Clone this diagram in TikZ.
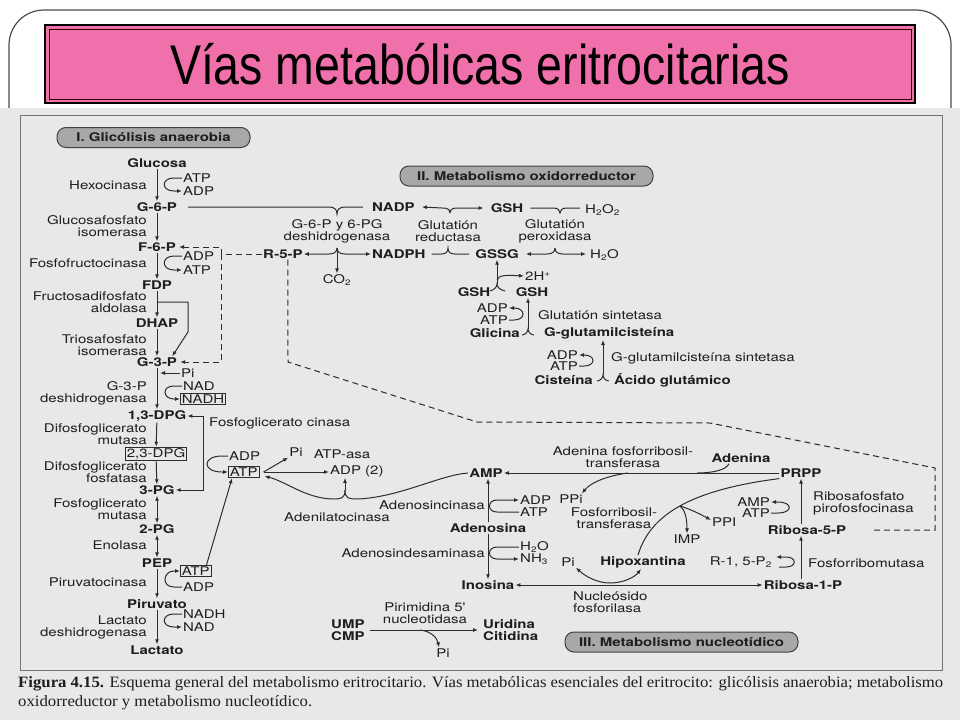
\documentclass[tikz,border=0pt]{standalone}
\usepackage{fontspec}
\usetikzlibrary{arrows.meta}
\newfontfamily\diag[FakeStretch=1.25]{TeX Gyre Heros}
\newfontfamily\titlefont[FakeStretch=0.83]{Liberation Sans}
\newfontfamily\capfont[FakeStretch=1.06]{Liberation Serif}
\definecolor{titlepink}{RGB}{240,112,172}
\definecolor{scan}{RGB}{232,232,230}
\definecolor{txt}{RGB}{30,30,30}
\definecolor{ln}{RGB}{45,45,45}
\definecolor{pillgray}{RGB}{168,168,168}
\tikzset{
 lbl/.style={font=\diag\fontsize{12}{12}\selectfont, text=txt, inner sep=1pt},
 met/.style={lbl, font=\diag\bfseries\fontsize{12}{12}\selectfont},
 enz/.style={lbl, align=right, anchor=east},
 boxed/.style={draw=ln, line width=0.8pt, inner sep=1.5pt},
 con/.style={draw=ln, line width=1pt},
 arr/.style={con, -{Latex[length=5pt,width=4pt]}},
 barr/.style={con, {Latex[length=5pt,width=4pt]}-{Latex[length=5pt,width=4pt]}},
 dsh/.style={dash pattern=on 6pt off 4pt},
 pill/.style={draw=black!75, fill=pillgray, line width=1pt, rounded corners=9pt, minimum height=20pt, inner sep=2pt, font=\diag\bfseries\fontsize{12}{12}\selectfont, text=txt},
}
\begin{document}
\begin{tikzpicture}[x=1pt,y=-1pt]
\useasboundingbox (0,0) rectangle (960,720);
\fill[white] (0,0) rectangle (960,720);
% slide frame
\draw[line width=1.2pt, black!70] (9,108) -- (9,45) arc[start angle=180, end angle=270, radius=35] -- (916,10) arc[start angle=270, end angle=360, radius=35] -- (951,108);
% title
\fill[titlepink] (45,25) rectangle (915,103);
\draw[line width=1.6pt, black] (45,25) rectangle (915,103);
\draw[line width=0.9pt, black!80!red] (49,29) rectangle (911,99);
\node[font=\titlefont\fontsize{56}{60}\selectfont, text=black] (title) at (480,64) {Vías metabólicas eritrocitarias};
% scan area
\fill[scan] (0,108) rectangle (960,720);
\draw[line width=1pt, black!55] (20,115) rectangle (942,670);

% ---------- I. Glycolysis ----------
\node[pill, minimum width=193pt] (p1) at (153.5,137.5) {I. Glicólisis anaerobia};
\node[met] (glc) at (157,163) {Glucosa};
\node[met] (g6p) at (157,207) {G-6-P};
\node[met] (f6p) at (157,247) {F-6-P};
\node[met] (fdp) at (157,285) {FDP};
\node[met] (dhap) at (157,323) {DHAP};
\node[met] (g3p) at (157,362) {G-3-P};
\node[met] (dpg13) at (157,416) {1,3-DPG};
\node[lbl,boxed] (dpg23) at (156,454) {2,3-DPG};
\node[met] (pg3) at (157,490) {3-PG};
\node[met] (pg2) at (157,529) {2-PG};
\node[met] (pep) at (157,563) {PEP};
\node[met] (pyr) at (157,604) {Piruvato};
\node[met] (lac) at (157,650) {Lactato};

\draw[arr] (glc) -- (g6p);
\draw[arr] (g6p) -- (f6p);
\draw[arr] (f6p) -- (fdp);
\draw[arr] (fdp) -- (dhap);
\draw[arr] (dhap) -- (g3p);
\draw[arr] (g3p) -- (dpg13);
\draw[arr] (dpg13) -- (dpg23);
\draw[arr] (dpg23) -- (pg3);
\draw[barr] (pg3) -- (pg2);
\draw[barr] (pg2) -- (pep);
\draw[arr] (pep) -- (pyr);
\draw[arr] (pyr) -- (lac);

\node[enz] at (148,185) {Hexocinasa};
\node[enz] at (148,226) {Glucosafosfato\\isomerasa};
\node[enz] at (148,263) {Fosfofructocinasa};
\node[enz] at (148,302) {Fructosadifosfato\\aldolasa};
\node[enz] at (148,345) {Triosafosfato\\isomerasa};
\node[enz] at (148,393) {G-3-P\\deshidrogenasa};
\node[enz] at (148,434) {Difosfoglicerato\\mutasa};
\node[enz] at (148,472) {Difosfoglicerato\\fosfatasa};
\node[enz] at (148,509) {Fosfoglicerato\\mutasa};
\node[enz] at (148,545) {Enolasa};
\node[enz] at (148,582) {Piruvatocinasa};
\node[enz] at (148,627) {Lactato\\deshidrogenasa};

% hexokinase
\node[lbl,anchor=west] (atp1) at (182,178) {ATP};
\node[lbl,anchor=west] (adp1) at (182,191) {ADP};
\draw[arr] (atp1.west) -- ++(-8,0) .. controls +(-13,0) and +(-13,0) .. ([xshift=-8pt]adp1.west) -- (adp1.west);
% PFK
\node[lbl,anchor=west] (adp2) at (182,256) {ADP};
\node[lbl,anchor=west] (atp2) at (182,270) {ATP};
\draw[arr] (adp2.west) -- ++(-8,0) .. controls +(-13,0) and +(-13,0) .. ([xshift=-8pt]atp2.west) -- (atp2.west);
% aldolase bracket
\coordinate (ald1) at (157,302);
\draw[arr] (ald1) -- (188,302) -- (188,332) -- ([xshift=-6pt]g3p.north east);
% G3PDH
\node[lbl,anchor=west] (pi1) at (180,373) {Pi};
\coordinate (pi1t) at (160,373);
\draw[arr] (pi1.west) -- (pi1t);
\node[lbl,anchor=west] (nad1) at (182,386) {NAD};
\node[lbl,boxed,anchor=west] (nadh1) at (180,399) {NADH};
\draw[arr] (nad1.west) -- ++(-8,0) .. controls +(-13,0) and +(-11,0) .. ([xshift=-6pt]nadh1.west) -- (nadh1.west);
% phosphoglycerate kinase
\coordinate (k1) at (203,416);
\coordinate (k2) at (203,490);
\draw[barr] (dpg13.east) -- (k1) -- (k2) -- (pg3.east);
\node[lbl,anchor=west] (pgk) at (208,423) {Fosfoglicerato cinasa};
\node[lbl,anchor=west] (adp3) at (228,456) {ADP};
\node[lbl,boxed,anchor=west] (atpB) at (228,472) {ATP};
\draw[arr] (adp3.west) -- ++(-6,0) .. controls +(-20,0) and +(-20,0) .. ([xshift=-6pt]atpB.west) -- (atpB.west);
% ATPase
\node[lbl] (pi2) at (296,452) {Pi};
\node[lbl] (atpasa) at (342,454) {ATP-asa};
\node[lbl,anchor=west] (adp2x) at (329,471) {ADP (2)};
\draw[arr] ([xshift=4pt]atpB.east) -- (pi2.south west);
\draw[arr] ([xshift=4pt]atpB.east) -- (atpB.east -| adp2x.west);
% pyruvate kinase
\node[lbl,boxed,anchor=west] (atpP) at (180,571) {ATP};
\node[lbl,anchor=west] (adpP) at (182,587) {ADP};
\draw[arr] (adpP.west) -- ++(-8,0) .. controls +(-13,0) and +(-11,0) .. ([xshift=-6pt]atpP.west) -- (atpP.west);
\draw[arr] ([xshift=-5pt]atpP.north east) -- ([xshift=4pt]atpB.south west);
% LDH
\node[lbl,anchor=west] (nadh2) at (182,614) {NADH};
\node[lbl,anchor=west] (nad2) at (182,627) {NAD};
\draw[arr] (nadh2.west) -- ++(-8,0) .. controls +(-13,0) and +(-13,0) .. ([xshift=-8pt]nad2.west) -- (nad2.west);

% ---------- II. Oxidoreductive ----------
\node[pill, minimum width=253pt] (p2) at (526.5,176) {II. Metabolismo oxidorreductor};
\node[met,anchor=west] (nadp) at (371,207) {NADP};
\node[met,anchor=west] (nadph) at (371,254) {NADPH};
\node[met,anchor=west] (r5p) at (262,254) {R-5-P};
\node[lbl] (co2) at (337,280) {CO\textsubscript{2}};
\node[lbl,align=center] (g6pdh) at (337,231) {G-6-P y 6-PG\\deshidrogenasa};
\coordinate (y1) at (337,214);
\draw[con] ([xshift=10pt]g6p.east) -- (329,207) .. controls (334,207) and (337,209) .. (y1) .. controls (337,209) and (340,207) .. (345,207) -- ([xshift=-8pt]nadp.west);
\coordinate (y2) at (337,248);
\draw[arr] (y2) .. controls (337,252) and (334,254) .. (329,254) -- (r5p.east);
\draw[arr] (y2) .. controls (337,252) and (340,254) .. (345,254) -- (nadph.west);
\draw[arr] (y2) -- (co2.north);

\node[met] (gsh1) at (507,208) {GSH};
\node[lbl,anchor=west] (h2o2) at (584,210) {H\textsubscript{2}O\textsubscript{2}};
\node[met] (gssg) at (497,254) {GSSG};
\node[lbl,anchor=west] (h2o) at (589,255) {H\textsubscript{2}O};
\node[lbl,align=center] (gr) at (448,231) {Glutatión\\reductasa};
\node[lbl,align=center] (gpx) at (555,231) {Glutatión\\peroxidasa};
\coordinate (y3) at (450,213);
\draw[arr] (y3) .. controls (450,209) and (447,208) .. (442,208) -- ([xshift=6pt]nadp.east);
\draw[arr] (y3) .. controls (450,209) and (453,208) .. (458,208) -- ([xshift=-6pt]gsh1.west);
\coordinate (y4) at (448,248);
\draw[con] ([xshift=5pt]nadph.east) -- (441,254) .. controls (446,254) and (448,252) .. (y4) .. controls (448,252) and (450,254) .. (455,254) -- ([xshift=-5pt]gssg.west);
\coordinate (y5) at (560,213);
\draw[con] ([xshift=6pt]gsh1.east) -- (553,208) .. controls (558,208) and (560,210) .. (y5) .. controls (560,210) and (562,208) .. (567,208) -- ([xshift=-4pt,yshift=2pt]h2o2.west);
\coordinate (y6) at (555,248);
\draw[arr] (y6) .. controls (555,252) and (552,254) .. (547,254) -- ([xshift=6pt]gssg.east);
\draw[arr] (y6) .. controls (555,252) and (558,254) .. (563,254) -- ([xshift=-3pt,yshift=1pt]h2o.west);

\node[met] (gsha) at (474,292) {GSH};
\node[met] (gshb) at (532,292) {GSH};
\coordinate (y7) at (497,284);
\coordinate (l7a) at (490,291);
\coordinate (l7b) at (505,291);
\draw[con] (l7a) .. controls (494,290) and (497,287) .. (y7) .. controls (497,287) and (500,290) .. (l7b);
\draw[arr] (y7) -- (y7 |- gssg.south);
\node[lbl,anchor=west] (h2p) at (524,276) {2H\textsuperscript{+}};
\coordinate (y7b) at (497,280);
\draw[arr] (y7b) .. controls (499,275) and (505,275) .. (h2p.west);

\node[lbl,anchor=east] (adpg) at (509,308) {ADP};
\node[lbl,anchor=east] (atpg) at (509,320) {ATP};
\draw[arr] (atpg.east) -- ++(5,0) .. controls +(12,0) and +(12,0) .. ([xshift=5pt]adpg.east) -- (adpg.east);
\node[lbl,anchor=west] (gs) at (537,315) {Glutatión sintetasa};
\node[met,anchor=east] (gly) at (521,333) {Glicina};
\node[met,anchor=west] (ggc) at (543,333) {G-glutamilcisteína};
\coordinate (y8) at (528,329);
\coordinate (l8a) at (522,335);
\coordinate (l8b) at (534,335);
\draw[con] (l8a) .. controls (525,335) and (528,332) .. (y8) .. controls (528,332) and (531,335) .. (l8b);
\draw[arr] (y8) -- (y8 |- gshb.south);

\node[lbl,anchor=east] (adpc) at (579,355) {ADP};
\node[lbl,anchor=east] (atpc) at (579,366) {ATP};
\draw[arr] (atpc.east) -- ++(5,0) .. controls +(12,0) and +(12,0) .. ([xshift=5pt]adpc.east) -- (adpc.east);
\node[lbl,anchor=west] (ggcs) at (610,358) {G-glutamilcisteína sintetasa};
\node[met,anchor=east] (cys) at (594,380) {Cisteína};
\node[met,anchor=west] (glu) at (613,380) {Ácido glutámico};
\coordinate (y9) at (603,375);
\coordinate (l9a) at (597,381);
\coordinate (l9b) at (609,381);
\draw[con] (l9a) .. controls (600,381) and (603,378) .. (y9) .. controls (603,378) and (606,381) .. (l9b);
\draw[arr] (y9) -- (y9 |- ggc.south);

% dashed connections from R-5-P
\coordinate (dv) at (221,254);
\draw[arr,dsh] (r5p.west) -- (dv) -- (221,247) -- ([xshift=2pt]f6p.east);
\draw[arr,dsh] (dv) -- (221,362) -- ([xshift=2pt]g3p.east);

% ---------- III. Nucleotide ----------
\node[met] (amp) at (486,473) {AMP};
\node[met] (prpp) at (801,473) {PRPP};
\node[met] (r5p2) at (807,530) {Ribosa-5-P};
\node[met] (r1p) at (803,585) {Ribosa-1-P};
\draw[con,dsh] ([xshift=5pt]r5p.south) -- (288,362) -- (477,422) -- (710,423) -- (935,468) -- (935,530) -- ([xshift=24pt]r5p2.east);

\draw[arr] (prpp.west) -- (amp.east);
\node[lbl,align=center] (aprt) at (623,457) {Adenina fosforribosil-\\transferasa};
\node[met] (ade) at (741,458) {Adenina};
\coordinate (ade1) at (697,473);
\draw[con] ([xshift=-12pt]ade.south) .. controls (726,470) and (713,473) .. (ade1);
\node[lbl] (ppi1) at (571,499) {PPi};
\coordinate (pp0) at (628,473);
\draw[arr] (pp0) .. controls (612,475) and (592,481) .. ([xshift=-2pt]ppi1.north east);
\node[lbl,align=center] (hgprt) at (614,518) {Fosforribosil-\\transferasa};

% adenylate kinase
\coordinate (jA) at (345,490);
\draw[arr] (jA) .. controls +(0,8) and +(10,0) .. (332,499) .. controls (305,498) and (285,481) .. ([xshift=5pt,yshift=2pt]atpB.south east);
\draw[con] (jA) .. controls +(0,8) and +(-10,0) .. (358,499) .. controls (400,497) and (440,475) .. (amp.west);
\draw[arr] (jA) -- (jA |- adp2x.south);
\node[lbl] (adk) at (337,517) {Adenilatocinasa};

% adenosine
\node[met] (ado) at (488,528) {Adenosina};
\draw[arr] (ado.north) -- (ado.north |- amp.south);
\node[lbl,anchor=west] (adp4) at (519,500) {ADP};
\node[lbl,anchor=west] (atp4) at (519,512) {ATP};
\draw[arr] (atp4.west) -- ++(-22,0) .. controls +(-10,0) and +(-10,0) .. ([xshift=-22pt]adp4.west) -- (adp4.west);
\node[enz] at (486,505) {Adenosincinasa};
\node[enz] at (486,553) {Adenosindesaminasa};
\node[lbl,anchor=west] (h2o3) at (519,547) {H\textsubscript{2}O};
\node[lbl,anchor=west] (nh3) at (519,559) {NH\textsubscript{3}};
\draw[arr] (h2o3.west) -- ++(-22,0) .. controls +(-10,0) and +(-10,0) .. ([xshift=-22pt]nh3.west) -- (nh3.west);
\node[met] (ino) at (488,585) {Inosina};
\draw[arr] (ado) -- (ino);

% nucleoside phosphorylase
\draw[barr] (r1p.west) -- (ino.east);
\node[lbl] (pi3) at (568,562) {Pi};
\node[met] (hx) at (643,562) {Hipoxantina};
\coordinate (y10) at (610,583);
\draw[arr] (y10) .. controls (598,583) and (586,577) .. (pi3.south east);
\draw[arr] (y10) .. controls (622,583) and (634,578) .. ([xshift=-2pt]hx.south);
\node[lbl,align=left,anchor=north west] (npl) at (572,591) {Nucleósido\\fosforilasa};

% HGPRT
\draw[con] ([xshift=-5pt]hx.north) .. controls (650,515) and (690,490) .. (prpp.south west);
\coordinate (br) at (680,506);
\node[lbl] (imp) at (687,539) {IMP};
\node[lbl,anchor=west] (ppi2) at (711,522) {PPI};
\draw[arr] (br) .. controls (685,510) and (687,518) .. (imp.north);
\draw[arr] (br) .. controls (690,509) and (700,514) .. ([yshift=2pt]ppi2.west);

% ribose column
\draw[arr] (r1p.north -| prpp.south) -- (r5p2.south -| prpp.south);
\draw[arr] (r5p2.north -| prpp.south) -- (prpp.south);
\node[lbl,anchor=east] (amp2) at (771,502) {AMP};
\node[lbl,anchor=east] (atp5) at (771,513) {ATP};
\draw[arr] (atp5.east) -- ++(7,0) .. controls +(15,0) and +(15,0) .. ([xshift=7pt]amp2.east) -- (amp2.east);
\node[lbl,align=left,anchor=west] (rppk) at (812,503) {Ribosafosfato\\pirofosfocinasa};
\node[lbl,anchor=east] (r15) at (773,562) {R-1, 5-P\textsubscript{2}};
\draw[arr] ([xshift=6pt,yshift=-5pt]r15.east) -- ++(7,0) .. controls +(11,0) and +(11,0) .. ([xshift=13pt,yshift=5pt]r15.east) -- ([xshift=3pt,yshift=5pt]r15.east);
\node[lbl,anchor=west] (prm) at (807,563) {Fosforribomutasa};

% pyrimidine
\node[met,align=left,anchor=west] (umpcmp) at (330,630) {UMP\\CMP};
\node[met,align=left,anchor=west] (uricit) at (482,630) {Uridina\\Citidina};
\draw[arr] ([xshift=4pt]umpcmp.east) -- ([xshift=-4pt]uricit.west);
\node[lbl,align=center] (p5n) at (425,613) {Pirimidina 5'\\nucleotidasa};
\node[lbl] (pi4) at (443,653) {Pi};
\coordinate (u2) at (420,630);
\draw[arr] (u2) .. controls (430,631) and (437,637) .. ([xshift=-4pt]pi4.north);

\node[pill, minimum width=233pt] (p3) at (681.5,642) {III. Metabolismo nucleotídico};

% caption
\node[anchor=west, inner sep=0pt, font=\capfont\fontsize{15.8}{18}\selectfont, text=txt] (cap1) at (18,684) {\makebox[925pt][s]{\textbf{Figura 4.15.} Esquema general del metabolismo eritrocitario. Vías metabólicas esenciales del eritrocito: glicólisis anaerobia; metabolismo}};
\node[anchor=west, inner sep=0pt, font=\capfont\fontsize{15.8}{18}\selectfont, text=txt] (cap2) at (18,703) {oxidorreductor y metabolismo nucleotídico.};
\end{tikzpicture}
\end{document}
